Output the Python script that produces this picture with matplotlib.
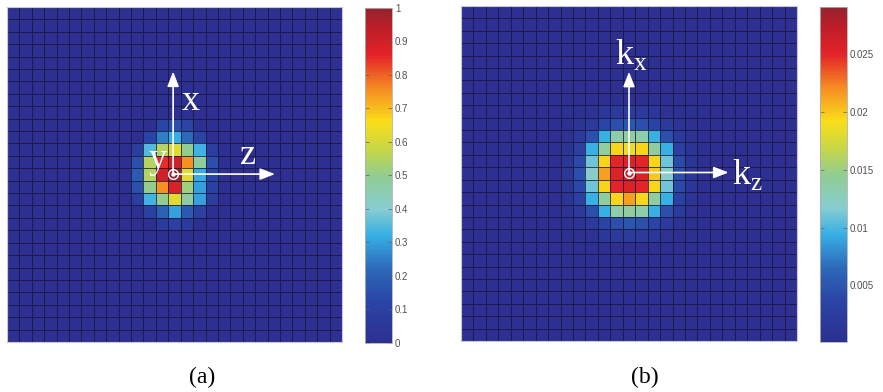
import numpy as np
import matplotlib
matplotlib.use("Agg")
import matplotlib.pyplot as plt
from matplotlib.colors import LinearSegmentedColormap

# grid size (cells per side) and values
n_cells = 27

# panel (a): normalised field, rows/cols 9..17 around the peak
a_offset = 9
a_patch = [
    [0.00, 0.00, 0.00, 0.12, 0.15, 0.12, 0.00, 0.00, 0.00],
    [0.00, 0.00, 0.12, 0.25, 0.32, 0.22, 0.12, 0.00, 0.00],
    [0.00, 0.08, 0.35, 0.55, 0.62, 0.50, 0.33, 0.08, 0.00],
    [0.00, 0.15, 0.55, 0.85, 0.90, 0.75, 0.48, 0.15, 0.00],
    [0.00, 0.18, 0.55, 0.90, 1.00, 0.62, 0.32, 0.12, 0.00],
    [0.00, 0.15, 0.50, 0.75, 0.88, 0.52, 0.30, 0.10, 0.00],
    [0.00, 0.08, 0.33, 0.50, 0.62, 0.48, 0.30, 0.08, 0.00],
    [0.00, 0.00, 0.10, 0.20, 0.30, 0.18, 0.10, 0.00, 0.00],
    [0.00, 0.00, 0.00, 0.07, 0.10, 0.07, 0.00, 0.00, 0.00],
]
a_background = 0.0
a_ticks = [0, 0.1, 0.2, 0.3, 0.4, 0.5, 0.6, 0.7, 0.8, 0.9, 1]
a_ticklabels = ["0", "0.1", "0.2", "0.3", "0.4", "0.5", "0.6", "0.7", "0.8", "0.9", "1"]

# panel (b): spectrum (x1e-3), rows/cols 8..18
b_offset = 8
b_patch = [
    [0.3, 0.3, 0.5, 1.5, 2.0, 2.2, 2.0, 1.5, 0.5, 0.3, 0.3],
    [0.3, 0.8, 2.0, 3.5, 4.5, 5.0, 4.5, 3.5, 2.0, 0.8, 0.3],
    [0.5, 2.0, 4.5, 9.5, 13.5, 14.0, 13.5, 9.5, 4.5, 2.0, 0.5],
    [1.0, 3.0, 9.5, 14.0, 19.5, 18.5, 19.5, 14.0, 9.5, 3.0, 1.0],
    [1.2, 4.0, 11.0, 19.5, 25.0, 25.5, 25.0, 19.5, 11.0, 4.0, 1.2],
    [1.3, 4.5, 12.0, 21.5, 25.5, 26.5, 25.5, 20.0, 12.0, 4.5, 1.3],
    [1.2, 4.0, 11.0, 19.5, 25.0, 25.5, 25.0, 19.5, 11.0, 4.0, 1.2],
    [1.0, 3.0, 9.5, 14.0, 19.5, 21.5, 19.5, 14.0, 9.5, 3.0, 1.0],
    [0.5, 2.0, 4.5, 9.5, 13.5, 14.0, 13.5, 9.5, 4.5, 2.0, 0.5],
    [0.3, 0.8, 2.0, 3.5, 4.5, 5.0, 4.5, 3.5, 2.0, 0.8, 0.3],
    [0.3, 0.3, 0.5, 1.5, 2.0, 2.2, 2.0, 1.5, 0.5, 0.3, 0.3],
]
b_scale = 1e-3
b_background = 0.0002
b_vmin, b_vmax = 0.0001, 0.0291
b_ticks = [0.005, 0.01, 0.015, 0.02, 0.025]
b_ticklabels = ["0.005", "0.01", "0.015", "0.02", "0.025"]


def build_field(patch, offset, background, scale=1.0):
    field = np.full((n_cells, n_cells), background)
    p = np.array(patch) * scale
    field[offset:offset + p.shape[0], offset:offset + p.shape[1]] = np.maximum(
        p, background)
    return field


field_a = build_field(a_patch, a_offset, a_background)
field_b = build_field(b_patch, b_offset, b_background, b_scale)

# washed-out jet, as it looks in the scanned figure
jet_soft = LinearSegmentedColormap.from_list("jet_soft", [
    (0.00, (45/255, 48/255, 145/255)),
    (0.12, (42/255, 68/255, 165/255)),
    (0.22, (45/255, 105/255, 185/255)),
    (0.32, (55/255, 175/255, 228/255)),
    (0.40, (135/255, 205/255, 210/255)),
    (0.50, (145/255, 205/255, 145/255)),
    (0.58, (200/255, 215/255, 70/255)),
    (0.66, (250/255, 222/255, 25/255)),
    (0.76, (245/255, 140/255, 35/255)),
    (0.86, (228/255, 35/255, 40/255)),
    (0.94, (190/255, 30/255, 40/255)),
    (1.00, (150/255, 35/255, 45/255)),
])

fig = plt.figure(figsize=(8.83, 3.92), dpi=100)

ax_a = fig.add_axes([0.0079, 0.1276, 0.3794, 0.8546])
cax_a = fig.add_axes([0.4134, 0.1250, 0.0306, 0.8546])
ax_b = fig.add_axes([0.5221, 0.1301, 0.3805, 0.8546])
cax_b = fig.add_axes([0.9287, 0.1276, 0.0306, 0.8546])

serif = ["Liberation Serif", "DejaVu Serif"]
arrow_kw = dict(arrowstyle="-|>,head_length=0.9,head_width=0.35",
                color="white", lw=1.2, shrinkA=0, shrinkB=0)


def draw_panel(ax, cax, field, vmin, vmax, ticks, ticklabels):
    mesh = ax.pcolormesh(field, cmap=jet_soft, vmin=vmin, vmax=vmax,
                         edgecolors=(0.08, 0.08, 0.2, 0.75), linewidth=0.6)
    ax.set_xlim(0, n_cells)
    ax.set_ylim(n_cells, 0)
    ax.set_xticks([])
    ax.set_yticks([])
    for s in ax.spines.values():
        s.set_color("#c8c8d0")
        s.set_linewidth(0.8)
    cb = fig.colorbar(mesh, cax=cax)
    cb.set_ticks(ticks)
    cb.set_ticklabels(ticklabels)
    cb.outline.set_edgecolor("#b0b0b0")
    cb.outline.set_linewidth(0.6)
    cax.tick_params(direction="in", left=True, right=True, length=3,
                    width=0.5, color="#606060", labelsize=7,
                    labelcolor="#505050", pad=2)
    for t in cax.get_yticklabels():
        t.set_fontfamily(["Liberation Sans", "DejaVu Sans"])
    return mesh


draw_panel(ax_a, cax_a, field_a, 0, 1, a_ticks, a_ticklabels)
draw_panel(ax_b, cax_b, field_b, b_vmin, b_vmax, b_ticks, b_ticklabels)

# axes glyphs on panel (a)
ca = (13.39, 13.47)
ax_a.annotate("", xy=(ca[0], 5.2), xytext=ca, arrowprops=arrow_kw)
ax_a.annotate("", xy=(21.6, ca[1]), xytext=ca, arrowprops=arrow_kw)
ax_a.plot(*ca, "o", ms=7, mfc="none", mec="white", mew=1.0)
ax_a.plot(*ca, "o", ms=2.2, color="white")
ax_a.text(14.8, 7.6, "x", color="white", fontsize=26, family=serif,
          ha="center", va="center")
ax_a.text(19.4, 12.0, "z", color="white", fontsize=26, family=serif,
          ha="center", va="center")
ax_a.text(12.15, 12.3, "y", color="white", fontsize=26, family=serif,
          ha="center", va="center")

# axes glyphs on panel (b)
cb_ = (13.5, 13.42)
ax_b.annotate("", xy=(cb_[0], 5.3), xytext=cb_, arrowprops=arrow_kw)
ax_b.annotate("", xy=(21.5, cb_[1]), xytext=cb_, arrowprops=arrow_kw)
ax_b.plot(*cb_, "o", ms=7, mfc="none", mec="white", mew=1.0)
ax_b.plot(*cb_, "o", ms=2.2, color="white")
ax_b.text(13.7, 3.9, r"k$_{\mathregular{x}}$", color="white", fontsize=26,
          family=serif, ha="center", va="center")
ax_b.text(23.0, 13.6, r"k$_{\mathregular{z}}$", color="white", fontsize=26,
          family=serif, ha="center", va="center")

plt.rcParams["mathtext.fontset"] = "custom"
plt.rcParams["mathtext.rm"] = "Liberation Serif"

fig.text(202 / 883, 1 - 377 / 392, "(a)", fontsize=17, family=serif,
         ha="center", va="center")
fig.text(645 / 883, 1 - 377 / 392, "(b)", fontsize=17, family=serif,
         ha="center", va="center")

fig.savefig("out.png", dpi=100, facecolor="white")
